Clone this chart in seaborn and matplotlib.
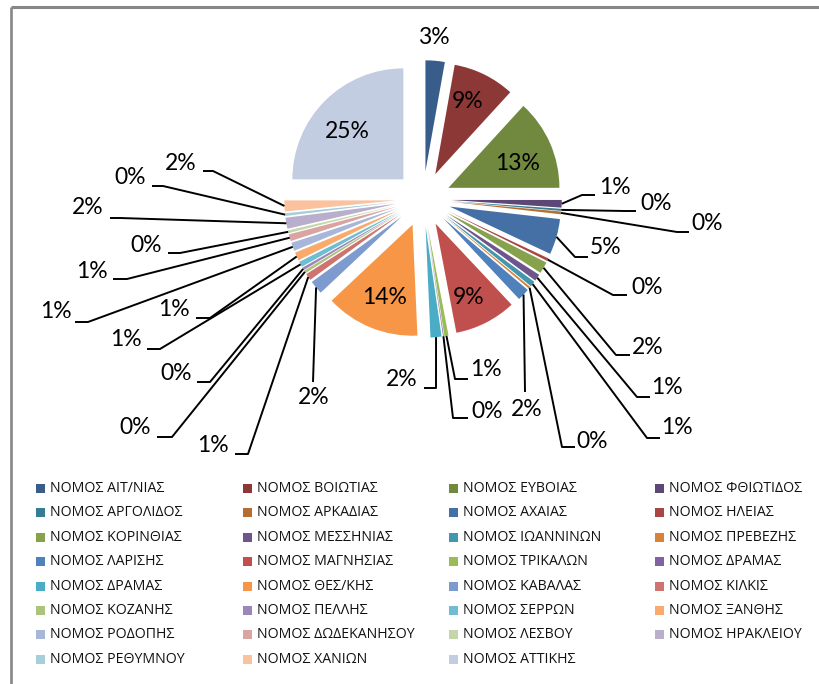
import matplotlib
matplotlib.use("Agg")
import matplotlib.pyplot as plt
from matplotlib.patches import Rectangle
import numpy as np
import seaborn as sns

# ---------------- data ----------------
categories = [
    "ΝΟΜΟΣ ΑΙΤ/ΝΙΑΣ", "ΝΟΜΟΣ ΒΟΙΩΤΙΑΣ", "ΝΟΜΟΣ ΕΥΒΟΙΑΣ", "ΝΟΜΟΣ ΦΘΙΩΤΙΔΟΣ",
    "ΝΟΜΟΣ ΑΡΓΟΛΙΔΟΣ", "ΝΟΜΟΣ ΑΡΚΑΔΙΑΣ", "ΝΟΜΟΣ ΑΧΑΙΑΣ", "ΝΟΜΟΣ ΗΛΕΙΑΣ",
    "ΝΟΜΟΣ ΚΟΡΙΝΘΙΑΣ", "ΝΟΜΟΣ ΜΕΣΣΗΝΙΑΣ", "ΝΟΜΟΣ ΙΩΑΝΝΙΝΩΝ", "ΝΟΜΟΣ ΠΡΕΒΕΖΗΣ",
    "ΝΟΜΟΣ ΛΑΡΙΣΗΣ", "ΝΟΜΟΣ ΜΑΓΝΗΣΙΑΣ", "ΝΟΜΟΣ ΤΡΙΚΑΛΩΝ", "ΝΟΜΟΣ ΔΡΑΜΑΣ",
    "ΝΟΜΟΣ ΔΡΑΜΑΣ", "ΝΟΜΟΣ ΘΕΣ/ΚΗΣ", "ΝΟΜΟΣ ΚΑΒΑΛΑΣ", "ΝΟΜΟΣ ΚΙΛΚΙΣ",
    "ΝΟΜΟΣ ΚΟΖΑΝΗΣ", "ΝΟΜΟΣ ΠΕΛΛΗΣ", "ΝΟΜΟΣ ΣΕΡΡΩΝ", "ΝΟΜΟΣ ΞΑΝΘΗΣ",
    "ΝΟΜΟΣ ΡΟΔΟΠΗΣ", "ΝΟΜΟΣ ΔΩΔΕΚΑΝΗΣΟΥ", "ΝΟΜΟΣ ΛΕΣΒΟΥ", "ΝΟΜΟΣ ΗΡΑΚΛΕΙΟΥ",
    "ΝΟΜΟΣ ΡΕΘΥΜΝΟΥ", "ΝΟΜΟΣ ΧΑΝΙΩΝ", "ΝΟΜΟΣ ΑΤΤΙΚΗΣ",
]
shares = [
    2.8, 9.0, 13.2, 1.1,
    0.3, 0.4, 5.2, 0.4,
    1.7, 1.0, 0.8, 0.3,
    1.8, 9.0, 0.6, 0.1,
    1.6, 13.7, 2.0, 1.0,
    0.4, 0.4, 0.8, 1.2,
    1.2, 1.0, 0.4, 1.6,
    0.4, 1.6, 25.0,
]
colors = [
    "#385D8A", "#8C3836", "#71893F", "#5C4776",
    "#357D91", "#B66D31", "#4470A5", "#A94542",
    "#86A24C", "#6E568C", "#4097AE", "#D9823C",
    "#4F81BD", "#C0504D", "#9BBB59", "#8064A2",
    "#4BACC6", "#F79646", "#7D9BCE", "#CD7472",
    "#AAC47C", "#9C87B8", "#70BDD3", "#F9AA6C",
    "#A6B7D9", "#DAA4A3", "#C5D7AA", "#B9AECB",
    "#A6CEDB", "#FAC29E", "#C3CDE2",
]

# ---------------- layout (pixels) ----------------
W, H = 820, 684
CX, CY, R = 423, 199, 111     # pie centre and radius in pixels
EXPLODE = 0.25
# label centres; leader: (elbow, end of horizontal tick) or None
label_pos = [
    (434, 37), (468, 102), (518, 163), (615, 187),
    (656, 203), (707, 223), (606, 248), (647, 287),
    (648, 348), (667, 388), (677, 428), (592, 441),
    (527, 410), (469, 297), (486, 370), (487, 411),
    (402, 379), (385, 297), (314, 397), (213, 445),
    (135, 428), (176, 373), (126, 340), (174, 310),
    (56, 312), (92, 272), (146, 245), (88, 208),
    (130, 177), (181, 163), (347, 132),
]
leaders = [
    None, None, None, ((582, 195), (595, 195)),
    ((625, 211), (636, 211)), ((677, 232), (689, 232)), ((575, 257), (588, 257)), ((613, 295), (627, 295)),
    ((616, 355), (630, 355)), ((637, 397), (650, 397)), ((647, 438), (660, 438)), ((562, 447), (575, 447)),
    ((525, 392), None), None, ((455, 379), (468, 379)), ((453, 418), (468, 418)),
    ((436, 388), (424, 388)), None, ((313, 382), None), ((248, 454), (235, 454)),
    ((172, 437), (157, 437)), ((210, 382), (197, 382)), ((160, 349), (147, 349)), ((210, 318), (196, 318)),
    ((88, 322), (75, 322)), ((127, 279), (113, 279)), ((180, 253), (168, 253)), ((120, 218), (110, 218)),
    ((163, 186), (152, 186)), ((213, 171), (203, 171)), None,
]

sns.set_theme(style="white")
plt.rcParams["font.family"] = ["Lato", "Open Sans", "DejaVu Sans"]

fig = plt.figure(figsize=(W / 100, H / 100), dpi=100)
fig.patch.set_facecolor("white")

ax = fig.add_axes([0, 0, 1, 1])
palette = sns.color_palette(colors)
wedges, _ = ax.pie(
    shares, colors=palette, startangle=90, counterclock=False,
    explode=[EXPLODE] * len(shares), radius=1.0,
    wedgeprops=dict(linewidth=0),
)
ax.set_xlim(-CX / R, (W - CX) / R)
ax.set_ylim((CY - H) / R, CY / R)
ax.set_aspect("auto")
ax.axis("off")

# overlay in pixel coordinates
ov = fig.add_axes([0, 0, 1, 1], facecolor="none")
ov.set_xlim(0, W)
ov.set_ylim(H, 0)
ov.axis("off")

total = sum(shares)
for i, w in enumerate(wedges):
    pct = shares[i] / total * 100
    tx, ty = label_pos[i]
    ov.text(tx, ty, f"{pct:.0f}%", ha="center", va="center",
            fontsize=16.5, color="black")
    ld = leaders[i]
    if ld is not None:
        th = np.deg2rad((w.theta1 + w.theta2) / 2)
        d = 1.0 + EXPLODE
        sx = CX + d * np.cos(th) * R
        sy = CY - d * np.sin(th) * R
        xs = [sx, ld[0][0]]
        ys = [sy, ld[0][1]]
        if ld[1] is not None:
            xs.append(ld[1][0])
            ys.append(ld[1][1])
        ov.plot(xs, ys, color="black", lw=1.4, solid_capstyle="butt")

# legend (row-major, 4 columns)
col_x = [36, 243, 449, 655]
row_y0, row_dy = 488.3, 24.43
for i, name in enumerate(categories):
    r, c = divmod(i, 4)
    y = row_y0 + r * row_dy
    ov.add_patch(Rectangle((col_x[c], y - 4.5), 9, 9, facecolor=colors[i],
                           edgecolor="none"))
    ov.text(col_x[c] + 14, y, name, ha="left", va="center", fontsize=10.2,
            family=["Open Sans", "DejaVu Sans"], color="#111111")

# chart frame (left and top edges visible)
ov.plot([11, 11], [6.5, H], color="#878787", lw=1.9, solid_capstyle="butt")
ov.plot([11, W], [6.5, 6.5], color="#878787", lw=2.2, solid_capstyle="butt")

fig.savefig("out.png", dpi=100, facecolor="white")
